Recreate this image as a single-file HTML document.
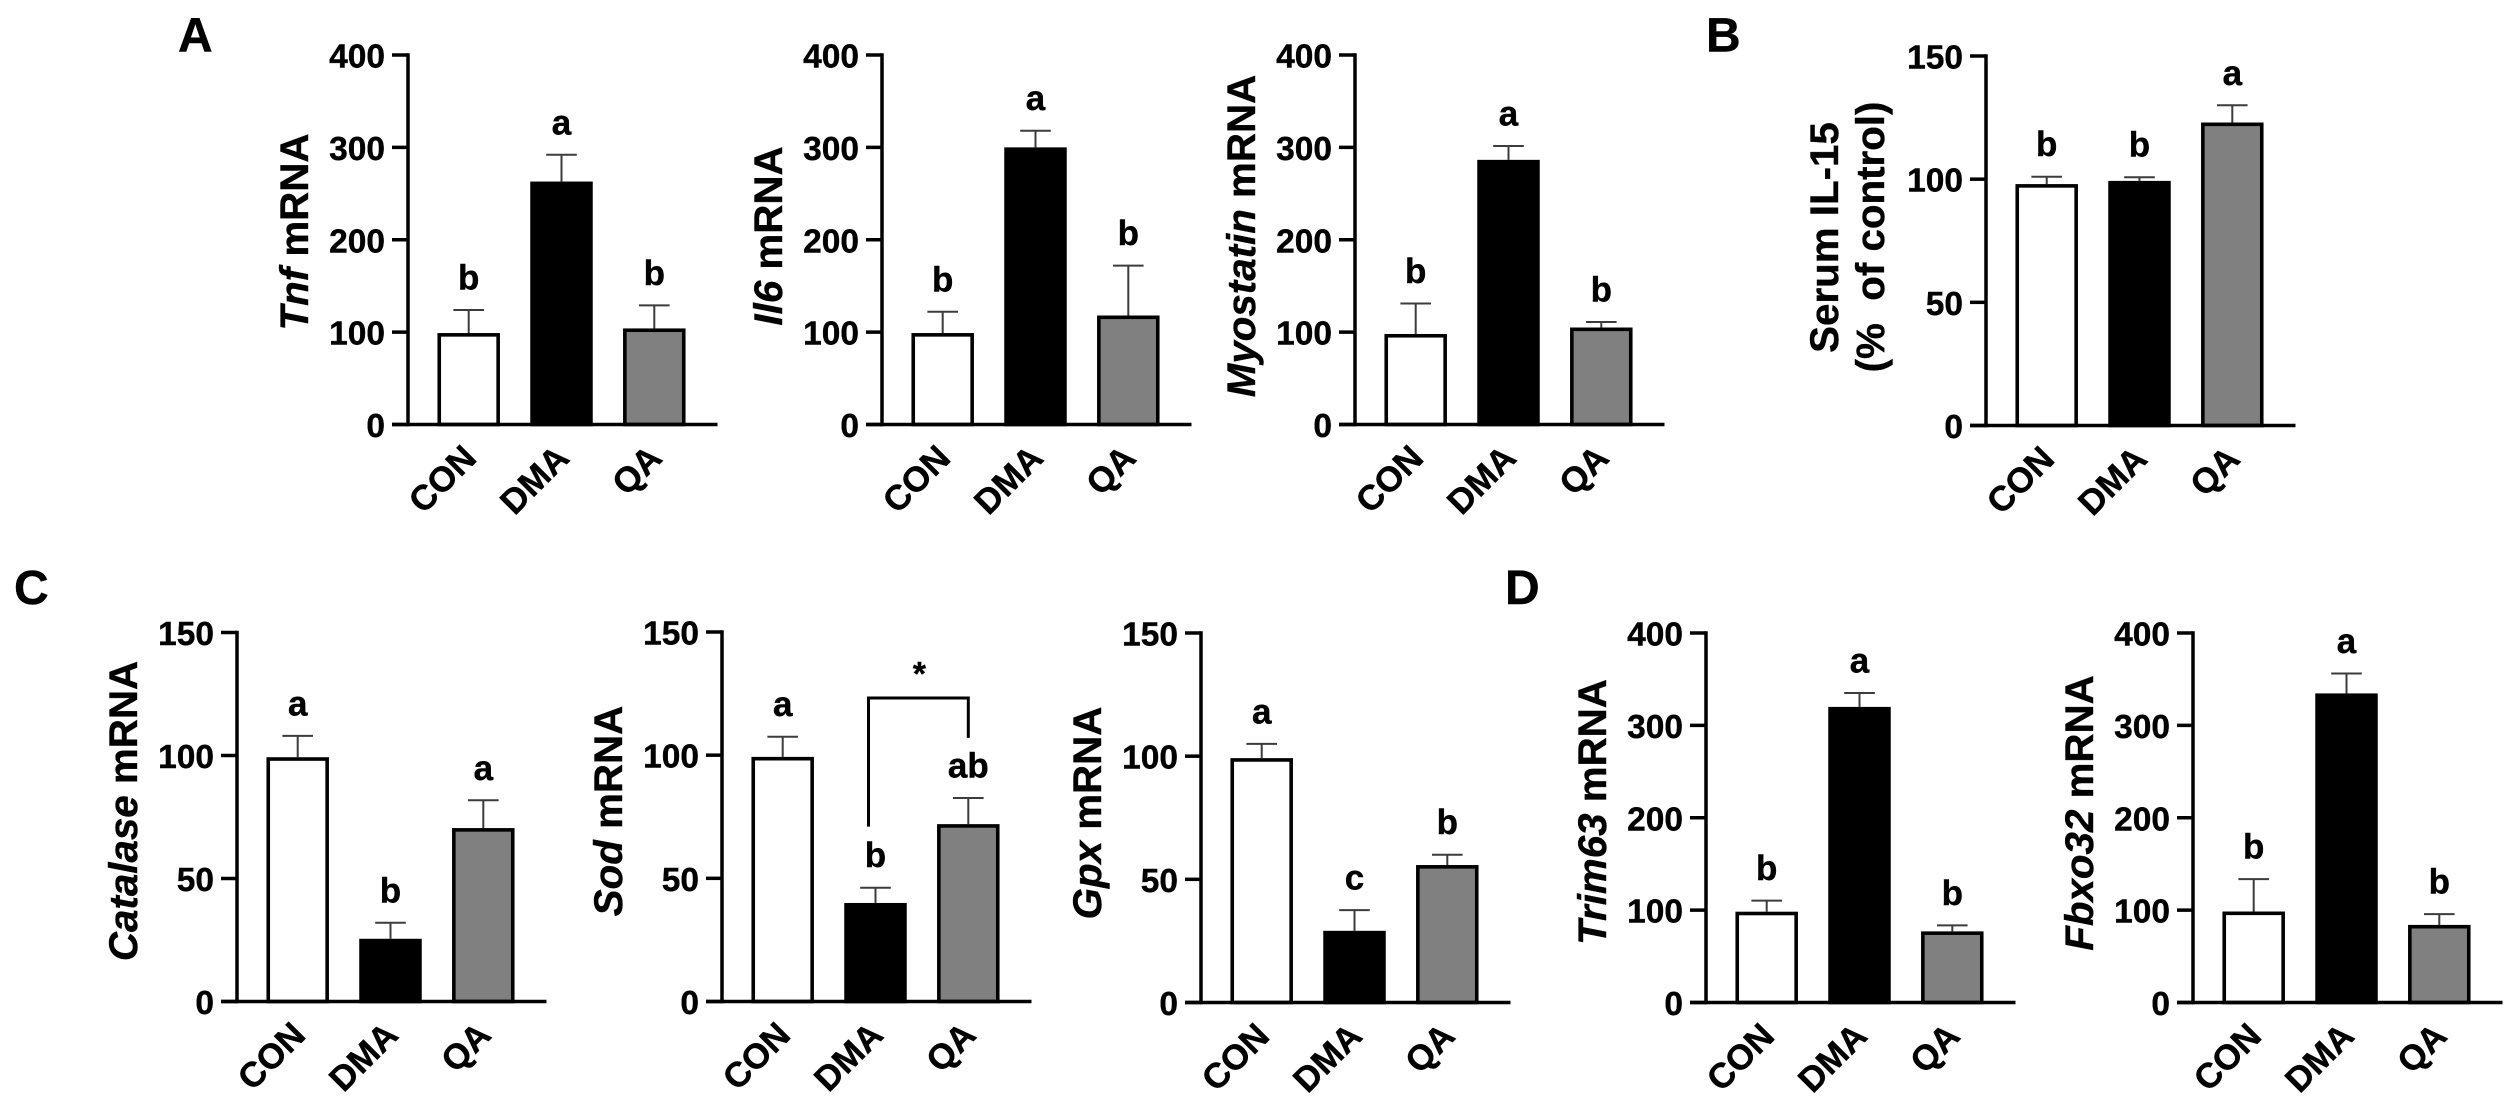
<!DOCTYPE html>
<html lang="en">
<head>
<meta charset="utf-8">
<title>mRNA expression bar charts</title>
<style>
html,body{margin:0;padding:0;background:#fff;}
svg{display:block;}
text{font-family:"Liberation Sans",Arial,sans-serif;font-weight:bold;fill:#000;stroke:#000;stroke-width:0.4px;}
</style>
</head>
<body>
<svg id="figure" xmlns="http://www.w3.org/2000/svg" width="2515" height="1113" viewBox="0 0 2515 1113">
<rect x="0" y="0" width="2515" height="1113" fill="#ffffff"/>
</svg>
<script>
// ---- Shared labels ----
const categories = ['CON', 'DMA', 'QA'];
const ticks400 = [0, 100, 200, 300, 400];
const ticks150 = [0, 50, 100, 150];

// ---- Values ----
const tnfValues = [99, 263, 104];
const tnfErrors = [25, 29, 25];
const tnfLetters = ['b', 'a', 'b'];

const il6Values = [99, 300, 118];
const il6Errors = [23, 18, 54];
const il6Letters = ['b', 'a', 'b'];

const myostatinValues = [98, 286.5, 105];
const myostatinErrors = [33, 15, 6];
const myostatinLetters = ['b', 'a', 'b'];

const il15Values = [98, 99.3, 123];
const il15Errors = [3, 1.5, 7];
const il15Letters = ['b', 'b', 'a'];

const catalaseValues = [99.3, 25.5, 70.5];
const catalaseErrors = [8.7, 6.5, 11.3];
const catalaseLetters = ['a', 'b', 'a'];

const sodValues = [99.3, 40, 72];
const sodErrors = [8.2, 6.2, 10.6];
const sodLetters = ['a', 'b', 'ab'];

const gpxValues = [99.2, 29.1, 55.8];
const gpxErrors = [5.8, 8.4, 4.2];
const gpxLetters = ['a', 'c', 'b'];

const trim63Values = [98.3, 320, 77];
const trim63Errors = [12, 15, 6.5];
const trim63Letters = ['b', 'a', 'b'];

const fbxo32Values = [98.5, 334.6, 84];
const fbxo32Errors = [35, 21.5, 11.7];
const fbxo32Letters = ['b', 'a', 'b'];

// ---- Layout of each panel ----
const panels = [
  {id:'tnf', italic:'Tnf', rest:' mRNA', values:tnfValues, errors:tnfErrors, letters:tnfLetters, ticks:ticks400, axisX:408, top:55, bottom:424.5, titleY:232},
  {id:'il6', italic:'Il6', rest:' mRNA', values:il6Values, errors:il6Errors, letters:il6Letters, ticks:ticks400, axisX:882, top:55, bottom:424.5, titleY:236},
  {id:'myostatin', italic:'Myostatin', rest:' mRNA', values:myostatinValues, errors:myostatinErrors, letters:myostatinLetters, ticks:ticks400, axisX:1355, top:55, bottom:424.5, titleY:236},
  {id:'il15', values:il15Values, errors:il15Errors, letters:il15Letters, ticks:ticks150, axisX:1986, top:56, bottom:425.5},
  {id:'catalase', italic:'Catalase', rest:' mRNA', values:catalaseValues, errors:catalaseErrors, letters:catalaseLetters, ticks:ticks150, axisX:237, top:632.5, bottom:1001.5, titleY:811},
  {id:'sod', italic:'Sod', rest:' mRNA', values:sodValues, errors:sodErrors, letters:sodLetters, ticks:ticks150, axisX:722, top:632, bottom:1001.5, titleY:811},
  {id:'gpx', italic:'Gpx', rest:' mRNA', values:gpxValues, errors:gpxErrors, letters:gpxLetters, ticks:ticks150, axisX:1201, top:633, bottom:1002.5, titleY:813},
  {id:'trim63', italic:'Trim63', rest:' mRNA', values:trim63Values, errors:trim63Errors, letters:trim63Letters, ticks:ticks400, axisX:1706, top:633, bottom:1002.5, titleY:812},
  {id:'fbxo32', italic:'Fbxo32', rest:' mRNA', values:fbxo32Values, errors:fbxo32Errors, letters:fbxo32Letters, ticks:ticks400, axisX:2193, top:633, bottom:1002.5, titleY:813}
];

const panelTags = ['A', 'B', 'C', 'D'];
const tagX = [178, 1706, 14, 1505];
const tagY = [51.5, 51.5, 604, 604];

const fills = ['#ffffff', '#000000', '#808080'];
const svgNS = 'http://www.w3.org/2000/svg';
const figure = document.getElementById('figure');

function mk(parent, tag, attrs, name) {
  const el = document.createElementNS(svgNS, tag);
  for (const k in attrs) el.setAttribute(k, attrs[k]);
  
  
  parent.appendChild(el);
  return el;
}
function line(parent, x1, y1, x2, y2, width, color, name) {
  return mk(parent, 'line', {x1:x1, y1:y1, x2:x2, y2:y2, stroke:color, 'stroke-width':width}, name);
}
function label(parent, str, x, y, size, anchor, name) {
  const t = mk(parent, 'text', {x:x, y:y, 'font-size':size, 'text-anchor':anchor}, name);
  t.textContent = str;
  return t;
}

panels.forEach(function (p) {
  const g = mk(figure, 'g', {}, 'chart-' + p.id);
  const maxV = p.ticks[p.ticks.length - 1];
  const yScale = function (v) { return p.bottom - (v / maxV) * (p.bottom - p.top); };
  const xScale = function (i) { return p.axisX + 60.7 + i * 92.8; };
  const barW = 62.5, sw = 3.6;

  // bars
  p.values.forEach(function (v, i) {
    const cx = xScale(i);
    const errTop = yScale(v + p.errors[i]);
    const barTop = yScale(v);
    line(g, cx, errTop, cx, barTop, 2, '#3c3c3c', 'error-bar-' + p.id + '-' + categories[i]);
    line(g, cx - 15.3, errTop, cx + 15.3, errTop, 2, '#3c3c3c', 'error-cap-' + p.id + '-' + categories[i]);
    mk(g, 'rect', {
      x: cx - barW / 2 + sw / 2, y: barTop + sw / 2,
      width: barW - sw, height: p.bottom - barTop - sw / 2,
      fill: fills[i], stroke: '#000', 'stroke-width': sw
    }, 'bar-' + p.id + '-' + categories[i]);
    label(g, p.letters[i], cx, errTop - 20.5, 35, 'middle', 'significance-letter-' + p.id + '-' + categories[i]);
    const xl = label(g, categories[i], 0, 0, 35, 'end', 'x-tick-label-' + p.id + '-' + categories[i]);
    xl.setAttribute('transform', 'translate(' + (cx + 9.5) + ',' + (p.bottom + 35.5) + ') rotate(-45)');
  });

  // axes
  line(g, p.axisX, p.top - 1.7, p.axisX, p.bottom + 1.7, 3.5, '#000', 'y-axis-' + p.id);
  line(g, p.axisX - 16, p.bottom, p.axisX + 309.5, p.bottom, 3.5, '#000', 'x-axis-' + p.id);
  p.ticks.forEach(function (t) {
    const y = yScale(t);
    line(g, p.axisX - 16, y, p.axisX, y, 3.5, '#000', 'y-tick-' + p.id + '-' + t);
    label(g, String(t), p.axisX - 23, y + 12.5, 33.5, 'end', 'y-tick-label-' + p.id + '-' + t);
  });

  // y-axis title
  if (p.italic) {
    const title = mk(g, 'text', {'font-size':40.3, 'text-anchor':'middle',
      transform:'translate(' + (p.axisX - 100) + ',' + p.titleY + ') rotate(-90)'}, 'y-axis-title-' + p.id);
    const a = mk(title, 'tspan', {'font-style':'italic'}, 'y-axis-title-gene-' + p.id);
    a.textContent = p.italic;
    const b = mk(title, 'tspan', {}, 'y-axis-title-unit-' + p.id);
    b.textContent = p.rest;
  } else {
    const t1 = label(g, 'Serum IL-15', 0, 0, 40.3, 'middle', 'y-axis-title-line1-il15');
    t1.setAttribute('transform', 'translate(' + (p.axisX - 148) + ',237.5) rotate(-90)');
    const t2 = label(g, '(%  of control)', 0, 0, 40.3, 'middle', 'y-axis-title-line2-il15');
    t2.setAttribute('xml:space', 'preserve');
    t2.style.whiteSpace = 'pre';
    t2.setAttribute('transform', 'translate(' + (p.axisX - 102) + ',237) rotate(-90)');
  }

  // comparison bracket on the Sod chart
  if (p.id === 'sod') {
    const ax = xScale(1) - 7, bx = xScale(2), topY = 698;
    mk(g, 'polyline', {points: ax + ',' + yScale(71) + ' ' + ax + ',' + topY + ' ' + bx + ',' + topY + ' ' + bx + ',' + yScale(107),
      fill:'none', stroke:'#000', 'stroke-width':3}, 'significance-bracket');
    label(g, '*', (ax + bx) / 2 + 1, 685, 33.5, 'middle', 'significance-asterisk');
  }
});

panelTags.forEach(function (tag, i) {
  label(figure, tag, tagX[i], tagY[i], 48, 'start', 'panel-label-' + tag);
});
</script>
</body>
</html>
